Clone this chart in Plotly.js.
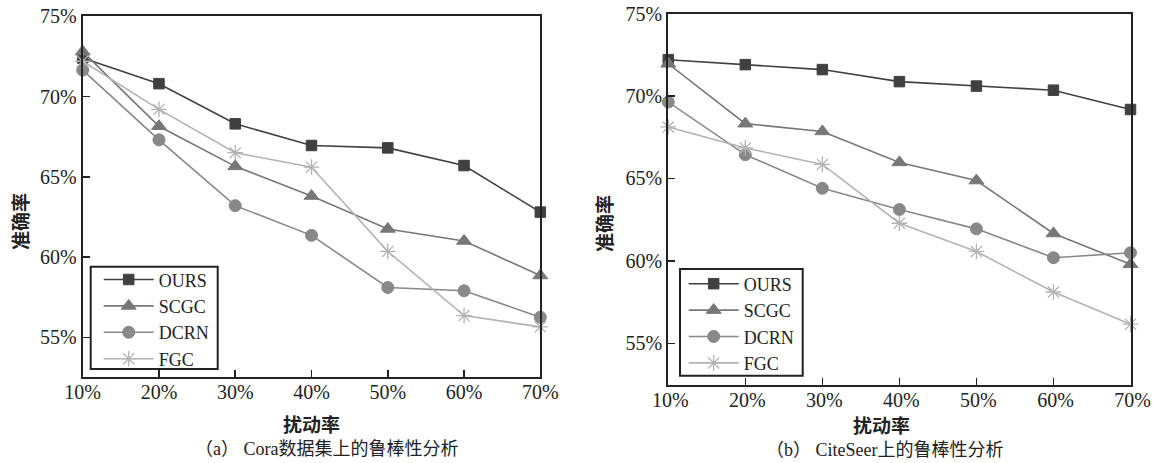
<!DOCTYPE html>
<html>
<head>
<meta charset="utf-8">
<script src="https://cdn.plot.ly/plotly-3.0.1.min.js"></script>
<style>html,body{margin:0;padding:0;background:#fff;}#chart{width:1155px;height:463px;}</style>
</head>
<body>
<div id="chart"></div>
<script>
// perturbation rates (x) and tick labels
const rates = [10, 20, 30, 40, 50, 60, 70];
const rateLabels = ['10%', '20%', '30%', '40%', '50%', '60%', '70%'];
const accTicks = [55, 60, 65, 70, 75];
const accLabels = ['55%', '60%', '65%', '70%', '75%'];
const methods = ['OURS', 'SCGC', 'DCRN', 'FGC'];

// (a) Cora
const coraOURS = [72.4, 70.8, 68.3, 66.95, 66.8, 65.7, 62.8];
const coraSCGC = [72.8, 68.15, 65.65, 63.8, 61.75, 61.0, 58.85];
const coraDCRN = [71.65, 67.3, 63.2, 61.35, 58.1, 57.9, 56.25];
const coraFGC  = [72.2, 69.2, 66.5, 65.6, 60.35, 56.35, 55.65];

// (b) CiteSeer
const citeOURS = [72.2, 71.9, 71.6, 70.87, 70.6, 70.35, 69.18];
const citeSCGC = [71.95, 68.32, 67.85, 65.97, 64.87, 61.66, 59.79];
const citeDCRN = [69.63, 66.44, 64.4, 63.11, 61.94, 60.19, 60.49];
const citeFGC  = [68.12, 66.85, 65.85, 62.28, 60.57, 58.11, 56.16];

const styles = {
  OURS: {color: '#404040', symbol: 'square', size: 10.5, lw: 1},
  SCGC: {color: '#777777', symbol: 'triangle-up', size: 13, lw: 1},
  DCRN: {color: '#888888', symbol: 'circle', size: 12, lw: 1},
  FGC:  {color: '#b3b3b3', symbol: 'asterisk-open', size: 13, lw: 1.3}
};

function mk(name, ys, xa, ya, leg) {
  const s = styles[name];
  return {
    type: 'scatter', mode: 'lines+markers', name: name,
    x: rates, y: ys, xaxis: xa, yaxis: ya, legend: leg,
    cliponaxis: false,
    line: {color: s.color, width: 1.6},
    marker: {symbol: s.symbol, size: s.size, color: s.color,
             line: {color: s.color, width: s.lw}}
  };
}

const cora = {OURS: coraOURS, SCGC: coraSCGC, DCRN: coraDCRN, FGC: coraFGC};
const cite = {OURS: citeOURS, SCGC: citeSCGC, DCRN: citeDCRN, FGC: citeFGC};
const traces = [];
methods.forEach(m => traces.push(mk(m, cora[m], 'x', 'y', 'legend')));
methods.forEach(m => traces.push(mk(m, cite[m], 'x2', 'y2', 'legend2')));

const tickFont = {family: 'Liberation Serif, Times New Roman, serif', size: 20, color: '#222'};
function xAx(domain, anchor, shift) {
  return {domain: domain, anchor: anchor, range: [10, 70], tickvals: rates, ticktext: rateLabels,
    ticks: 'inside', ticklen: 7, tickwidth: 1.5, tickcolor: '#222', ticklabelshift: shift,
    ticklabelstandoff: -4,
    showline: true, linewidth: 2, linecolor: '#222', mirror: true,
    showgrid: false, zeroline: false, tickfont: tickFont, fixedrange: true};
}
function yAx(domain, anchor) {
  return {domain: domain, anchor: anchor, range: [52.5, 75], tickvals: accTicks, ticktext: accLabels,
    ticks: 'inside', ticklen: 7, tickwidth: 1.5, tickcolor: '#222',
    showline: true, linewidth: 2, linecolor: '#222', mirror: true,
    showgrid: false, zeroline: false, tickfont: tickFont, fixedrange: true};
}
const legFont = {family: 'Liberation Serif, Times New Roman, serif', size: 18, color: '#222'};
const cjk = 'Liberation Serif, Noto Sans CJK SC, sans-serif';

function leg(px, py) {
  return {x: px/1155, y: 1-py/463, xanchor: 'left', yanchor: 'top', bgcolor: 'rgba(0,0,0,0)',
    borderwidth: 0, font: legFont, tracegroupgap: 0, itemwidth: 50};
}
function box(x0, y0, x1, y1) {
  return {type: 'rect', xref: 'paper', yref: 'paper', layer: 'above',
    x0: x0/1155, x1: x1/1155, y0: 1-y0/463, y1: 1-y1/463,
    fillcolor: '#fff', line: {color: '#222', width: 2}};
}
function ann(text, px, py, size, angle) {
  return {text: text, x: px/1155, y: 1-py/463, xref: 'paper', yref: 'paper',
    xanchor: 'center', yanchor: 'middle', textangle: angle || 0,
    showarrow: false, font: {family: cjk, size: size, color: '#222'}};
}

const layout = {
  width: 1155, height: 463,
  margin: {l: 0, r: 0, t: 0, b: 0},
  paper_bgcolor: '#fff', plot_bgcolor: '#fff',
  showlegend: true,
  xaxis: xAx([0.0716, 0.4678], 'y', 8.5),
  yaxis: yAx([0.1849, 0.9648], 'x'),
  xaxis2: xAx([0.5786, 0.9788], 'y2', 2),
  yaxis2: yAx([0.1695, 0.9708], 'x2'),
  legend: leg(98.7, 261.3),
  legend2: leg(683.7, 265.5),
  shapes: [box(90.7, 266.7, 217.7, 369), box(680, 269, 802.7, 375.7)],
  annotations: [
    ann('<b>准确率</b>', 22, 222, 19, -90),
    ann('<b>准确率</b>', 606, 224, 19, -90),
    ann('<b>扰动率</b>', 311, 425.5, 19),
    ann('<b>扰动率</b>', 881, 426, 19),
    ann('（a） Cora数据集上的鲁棒性分析', 326, 449, 18),
    ann('（b） CiteSeer上的鲁棒性分析', 884, 449.5, 18)
  ]
};

Plotly.newPlot('chart', traces, layout, {displayModeBar: false, staticPlot: true});
</script>
</body>
</html>
